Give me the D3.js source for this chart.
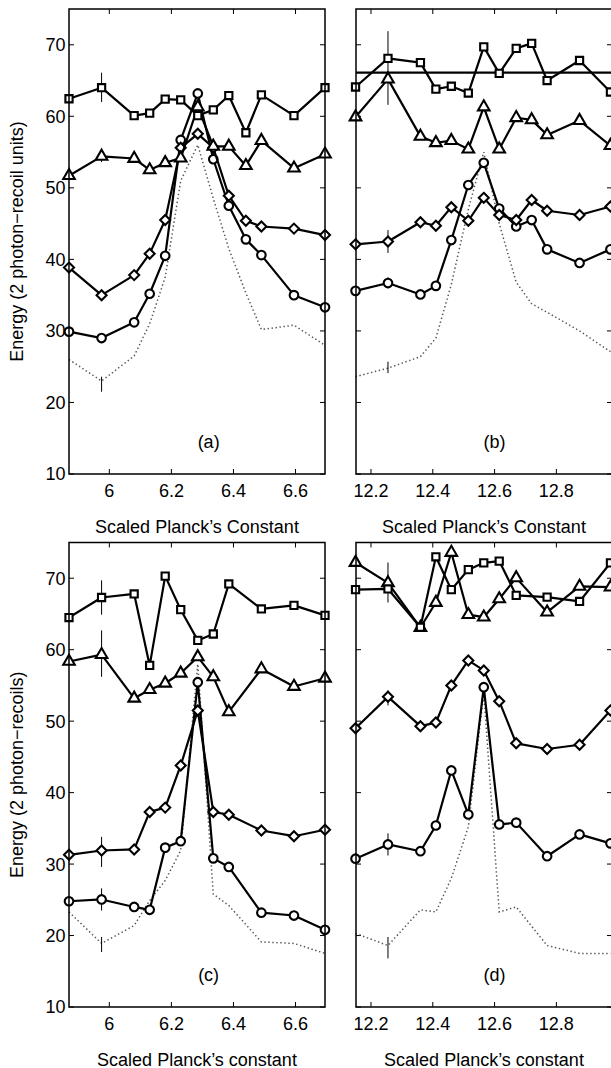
<!DOCTYPE html>
<head>
  <meta charset="utf-8">
  <title>energy vs scaled planck constant</title>
  <script src="https://d3js.org/d3.v7.min.js"></script>
</head>
<style>
body { margin: 0; background: #fff; }
svg text {
  font-family: "Liberation Sans", Arial, sans-serif;
  font-size: 18px;
  fill: #000;
}
.frame { fill: none; stroke: #000; stroke-width: 1.5; }
.tick { stroke: #000; stroke-width: 1; }
.series { fill: none; stroke: #000; stroke-width: 2.2; stroke-linejoin: round; }
.marker { fill: #fff; stroke: #000; stroke-width: 2.1; }
.theory { fill: none; stroke: #555; stroke-width: 1.5; stroke-dasharray: 1.4,2.6; }
.err { stroke: #000; stroke-width: 1; }
.hline { stroke: #000; stroke-width: 2.2; }
</style>
<body>
<svg width="611" height="1068"></svg>
<script>
// scaled Planck's constant values of the points
var hA = [5.87, 5.975, 6.08, 6.13, 6.18, 6.23, 6.285, 6.335, 6.385, 6.44, 6.49, 6.595, 6.695];
var hB = [12.15, 12.255, 12.36, 12.41, 12.46, 12.515, 12.565, 12.615, 12.67, 12.72, 12.77, 12.875, 12.975];
var hC = [5.87, 5.975, 6.08, 6.13, 6.18, 6.23, 6.285, 6.335, 6.385, 6.49, 6.595, 6.695];
var hD = [12.15, 12.255, 12.36, 12.41, 12.46, 12.515, 12.565, 12.615, 12.67, 12.77, 12.875, 12.975];

// panel (a)
var sqA   = [62.45, 64.0, 60.1, 60.45, 62.4, 62.3, 60.1, 60.9, 62.9, 57.7, 63.0, 60.1, 64.0];
var triA  = [51.7, 54.4, 54.1, 52.5, 53.5, 54.15, 61.3, 55.8, 55.8, 53.1, 56.6, 52.75, 54.7];
var diaA  = [38.85, 35.0, 37.8, 40.8, 45.5, 55.6, 57.55, 55.6, 48.9, 45.4, 44.6, 44.3, 43.4];
var circA = [29.9, 29.0, 31.2, 35.2, 40.5, 56.7, 63.2, 54.0, 47.5, 42.8, 40.6, 35.0, 33.3];
var dotA  = [26.0, 23.0, 26.5, 31.0, 37.5, 51.0, 56.0, 48.5, 41.5, 35.3, 30.2, 30.8, 28.0];

// panel (b)
var sqB   = [64.1, 68.1, 67.5, 63.8, 64.2, 63.25, 69.7, 66.0, 69.5, 70.2, 65.0, 67.8, 63.4];
var triB  = [59.9, 65.2, 57.2, 56.3, 56.6, 55.4, 61.3, 55.4, 59.8, 59.5, 57.4, 59.4, 55.9];
var diaB  = [42.1, 42.5, 45.2, 44.7, 47.3, 45.4, 48.6, 46.2, 45.5, 48.3, 46.8, 46.2, 47.4];
var circB = [35.6, 36.7, 35.1, 36.3, 42.7, 50.4, 53.5, 47.1, 44.6, 45.5, 41.4, 39.5, 41.4];
var dotB  = [23.6, 24.8, 26.4, 29.0, 36.5, 47.0, 55.0, 45.0, 36.8, 33.8, 32.6, 30.0, 27.1];
var levelB = 66.1;

// panel (c)
var sqC   = [64.5, 67.3, 67.8, 57.8, 70.3, 65.6, 61.3, 62.2, 69.2, 65.7, 66.2, 64.8];
var triC  = [58.35, 59.3, 53.2, 54.4, 55.3, 56.7, 59.0, 56.2, 51.3, 57.3, 54.85, 56.0];
var diaC  = [31.3, 31.9, 32.05, 37.3, 37.9, 43.8, 51.5, 37.3, 36.9, 34.7, 33.9, 34.8];
var circC = [24.8, 25.05, 24.0, 23.6, 32.3, 33.2, 55.45, 30.8, 29.6, 23.2, 22.8, 20.8];
var dotC  = [23.3, 18.9, 21.4, 24.9, 27.7, 31.9, 58.0, 25.8, 24.2, 19.1, 18.9, 17.5];

// panel (d)
var sqD   = [68.4, 68.5, 63.15, 73.0, 68.4, 71.2, 72.15, 72.4, 67.6, 67.35, 66.75, 72.15];
var triD  = [72.2, 69.35, 63.1, 66.6, 73.6, 64.9, 64.55, 67.1, 70.05, 65.25, 68.85, 68.75];
var diaD  = [49.0, 53.4, 49.3, 49.8, 55.0, 58.5, 57.1, 52.8, 46.9, 46.1, 46.7, 51.5];
var circD = [30.75, 32.75, 31.8, 35.4, 43.1, 36.95, 54.75, 35.55, 35.8, 31.1, 34.15, 32.9];
var dotD  = [20.3, 18.6, 23.6, 23.3, 28.0, 35.2, 54.0, 23.3, 24.0, 18.6, 17.5, 17.5];

// error bars: [h, low, high]
var errA = [[5.975, 62.0, 66.1], [5.975, 53.6, 55.2], [5.975, 34.4, 35.6], [5.975, 28.3, 29.7], [5.975, 21.5, 23.6]];
var errB = [[12.255, 61.6, 71.9], [12.255, 40.9, 44.1], [12.255, 35.9, 37.5], [12.255, 24.1, 25.7]];
var errC = [[5.975, 64.9, 69.7], [5.975, 56.2, 62.7], [5.975, 29.6, 33.8], [5.975, 23.5, 26.6], [5.975, 17.7, 19.8]];
var errD = [[12.255, 66.6, 72.2], [12.255, 52.2, 54.3], [12.255, 31.2, 34.3], [12.255, 16.8, 19.8]];

var yTicks = [10, 20, 30, 40, 50, 60, 70];
var xTicksLow = [6, 6.2, 6.4, 6.6];
var xTicksHigh = [12.2, 12.4, 12.6, 12.8];

var svg = d3.select("svg");

var diamond = {
  draw: function(ctx, size) {
    var r = Math.sqrt(size / 2);
    ctx.moveTo(0, -r); ctx.lineTo(r, 0); ctx.lineTo(0, r); ctx.lineTo(-r, 0); ctx.closePath();
  }
};

var panels = [
  { tag: "(a)", left: 69, right: 325, top: 9, bottom: 474, xd: [5.87, 6.695], xt: xTicksLow, tagX: 6.32,
    h: hA, sq: sqA, tri: triA, dia: diaA, circ: circA, dot: dotA, err: errA,
    ylab: "Energy (2 photon\u2212recoil units)", xlab: "Scaled Planck\u2019s Constant" },
  { tag: "(b)", left: 356, right: 612, top: 9, bottom: 474, xd: [12.1515, 12.98], xt: xTicksHigh, tagX: 12.6,
    h: hB, sq: sqB, tri: triB, dia: diaB, circ: circB, dot: dotB, err: errB, level: levelB,
    xlab: "Scaled Planck\u2019s Constant" },
  { tag: "(c)", left: 69, right: 325, top: 542.5, bottom: 1007, xd: [5.87, 6.695], xt: xTicksLow, tagX: 6.32,
    h: hC, sq: sqC, tri: triC, dia: diaC, circ: circC, dot: dotC, err: errC,
    ylab: "Energy (2 photon\u2212recoils)", xlab: "Scaled Planck\u2019s constant" },
  { tag: "(d)", left: 356, right: 612, top: 542.5, bottom: 1007, xd: [12.1515, 12.98], xt: xTicksHigh, tagX: 12.6,
    h: hD, sq: sqD, tri: triD, dia: diaD, circ: circD, dot: dotD, err: errD,
    xlab: "Scaled Planck\u2019s constant" }
];

panels.forEach(function(p) {
  var x = d3.scaleLinear().domain(p.xd).range([p.left, p.right]);
  var y = d3.scaleLinear().domain([10, 75]).range([p.bottom, p.top]);
  var g = svg.append("g");

  // ticks, pointing inward on all four sides
  g.selectAll(".xt").data(p.xt).enter().append("path")
    .attr("class", "tick")
    .attr("d", function(d) {
      var xx = x(d);
      return "M" + xx + "," + p.bottom + "v-5M" + xx + "," + p.top + "v5";
    });
  g.selectAll(".yt").data(yTicks).enter().append("path")
    .attr("class", "tick")
    .attr("d", function(d) {
      var yy = y(d);
      return "M" + p.left + "," + yy + "h5M" + p.right + "," + yy + "h-5";
    });

  g.selectAll(".xl").data(p.xt).enter().append("text")
    .attr("x", function(d) { return x(d); })
    .attr("y", p.bottom + 23)
    .attr("text-anchor", "middle")
    .text(function(d) { return d3.format("")(d); });

  if (p.ylab) {
    g.selectAll(".yl").data(yTicks).enter().append("text")
      .attr("x", p.left - 3.5)
      .attr("y", function(d) { return y(d); })
      .attr("dy", "0.36em")
      .attr("text-anchor", "end")
      .text(function(d) { return d; });
    g.append("text")
      .attr("transform", "translate(23," + ((p.top + p.bottom) / 2) + ") rotate(-90)")
      .attr("text-anchor", "middle")
      .text(p.ylab);
  }

  g.append("text")
    .attr("x", (p.left + p.right) / 2)
    .attr("y", p.bottom + 58.5)
    .attr("text-anchor", "middle")
    .text(p.xlab);

  g.append("text")
    .attr("x", x(p.tagX))
    .attr("y", y(14.5) + 6)
    .attr("text-anchor", "middle")
    .text(p.tag);

  var clipId = "clip" + p.tag.charAt(1);
  svg.append("clipPath").attr("id", clipId)
    .append("rect").attr("x", p.left - 8).attr("y", p.top).attr("width", p.right - p.left + 16).attr("height", p.bottom - p.top);
  var plot = g.append("g").attr("clip-path", "url(#" + clipId + ")");

  var line = d3.line()
    .x(function(d) { return x(d[0]); })
    .y(function(d) { return y(d[1]); });

  plot.append("path")
    .attr("class", "theory")
    .attr("d", line(d3.zip(p.h, p.dot)));

  plot.selectAll(".err").data(p.err).enter().append("line")
    .attr("class", "err")
    .attr("x1", function(d) { return x(d[0]); })
    .attr("x2", function(d) { return x(d[0]); })
    .attr("y1", function(d) { return y(d[1]); })
    .attr("y2", function(d) { return y(d[2]); });

  if (p.level) {
    plot.append("line")
      .attr("class", "hline")
      .attr("x1", p.left).attr("x2", p.right)
      .attr("y1", y(p.level)).attr("y2", y(p.level));
  }

  var series = [
    { v: p.circ, sym: d3.symbol().type(d3.symbolCircle).size(58) },
    { v: p.dia,  sym: d3.symbol().type(diamond).size(50) },
    { v: p.tri,  sym: d3.symbol().type(d3.symbolTriangle).size(58) },
    { v: p.sq,   sym: d3.symbol().type(d3.symbolSquare).size(52) }
  ];

  series.forEach(function(s) {
    var pts = d3.zip(p.h, s.v);
    plot.append("path").attr("class", "series").attr("d", line(pts));
    plot.selectAll(null).data(pts).enter().append("path")
      .attr("class", "marker")
      .attr("transform", function(d) { return "translate(" + x(d[0]) + "," + y(d[1]) + ")"; })
      .attr("d", s.sym);
  });

  g.append("rect")
    .attr("class", "frame")
    .attr("x", p.left).attr("y", p.top)
    .attr("width", p.right - p.left).attr("height", p.bottom - p.top);
});
</script>
</body>
